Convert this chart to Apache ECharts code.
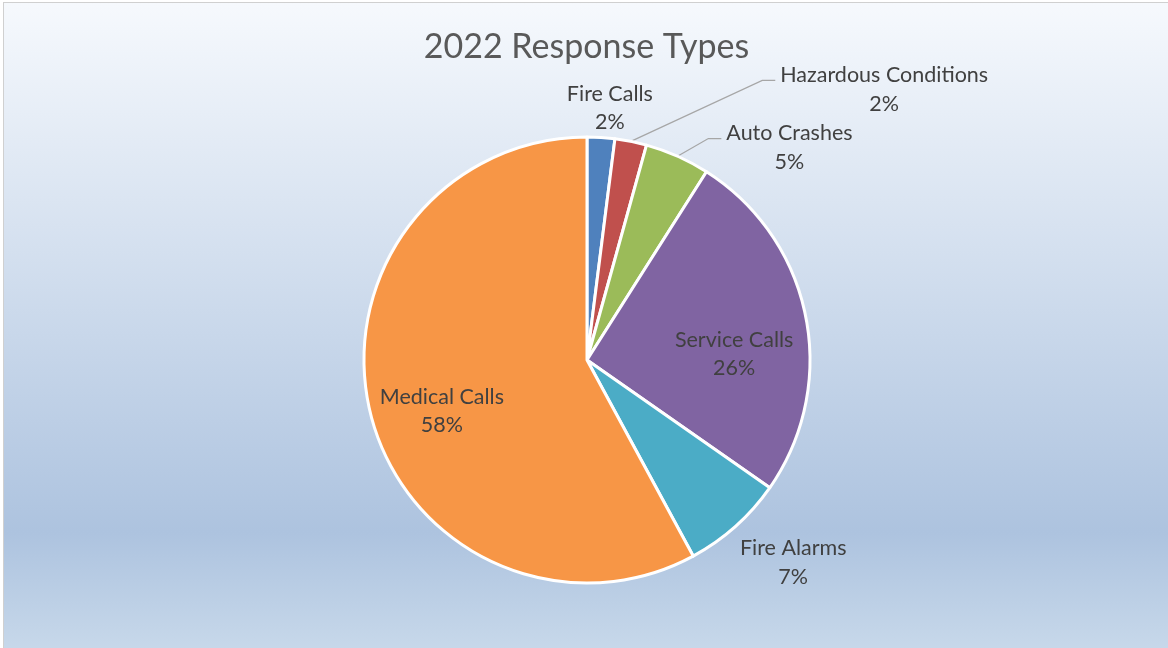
<!DOCTYPE html>
<html><head><meta charset="utf-8">
<script src="https://cdn.jsdelivr.net/npm/echarts@6/dist/echarts.min.js"></script>
<style>
html,body{margin:0;padding:0;background:#fff;width:1168px;height:648px;overflow:hidden}
#chart{position:absolute;left:3px;top:2px;width:1165px;height:646px;border-left:1px solid #d0d0d0;border-top:1px solid #d0d0d0}
</style></head>
<body><div id="chart"></div>
<script>
const titleText = '2022 Response Types';
const categories = ['Fire Calls', 'Hazardous Conditions', 'Auto Crashes', 'Service Calls', 'Fire Alarms', 'Medical Calls'];
const values = [2.0, 2.3, 4.7, 25.7, 7.4, 57.9];
const colors = ['#4f81bd', '#c0504d', '#9bbb59', '#8064a2', '#4bacc6', '#f79646'];
// label placement (style): radial length, horizontal length, whether a leader line is shown
const labelLen  = [29.5, 53, 9.5, -192.5, 48.6, -15.1];
const labelLen2 = [-41, 134, 40, 53, -33, -123.5];
const showLine  = [false, true, true, false, false, false];

const chart = echarts.init(document.getElementById('chart'), null, {renderer: 'canvas'});
const data = categories.map((name, i) => ({
  name, value: values[i],
  itemStyle: {color: colors[i]},
  labelLine: {show: showLine[i], length: labelLen[i], length2: labelLen2[i]}
}));
chart.setOption({
  animation: false,
  backgroundColor: new echarts.graphic.LinearGradient(0, 0, 0, 1, [
    {offset: 0, color: '#f6f9fd'},
    {offset: 0.82, color: '#adc3df'},
    {offset: 1, color: '#c7d8ea'}
  ]),
  title: {
    text: titleText, left: 'center', top: 22,
    textStyle: {fontFamily: 'Lato', fontSize: 34, fontWeight: 'normal', color: '#595959'}
  },
  series: [{
    type: 'pie',
    center: [583, 357],
    radius: 223,
    startAngle: 90,
    clockwise: true,
    avoidLabelOverlap: false,
    itemStyle: {borderColor: '#ffffff', borderWidth: 3},
    emphasis: {disabled: true},
    label: {
      show: true, position: 'outside', distanceToLabelLine: 5,
      formatter: p => '{a|' + p.name + '}\n{a|' + Math.round(p.percent) + '%}',
      rich: {a: {align: 'center', fontFamily: 'Lato', fontSize: 21.5, lineHeight: 28.5, color: '#404040'}}
    },
    labelLine: {lineStyle: {color: '#a6a6a6', width: 1.25}},
    labelLayout: function (params) {
      const pts = params.labelLinePoints;
      if (!pts || !showLine[params.dataIndex]) return {};
      const end = [pts[2][0], pts[2][1] - 9];
      return {labelLinePoints: [pts[0], [end[0] - 13, end[1]], end]};
    },
    data
  }]
});
</script></body></html>
